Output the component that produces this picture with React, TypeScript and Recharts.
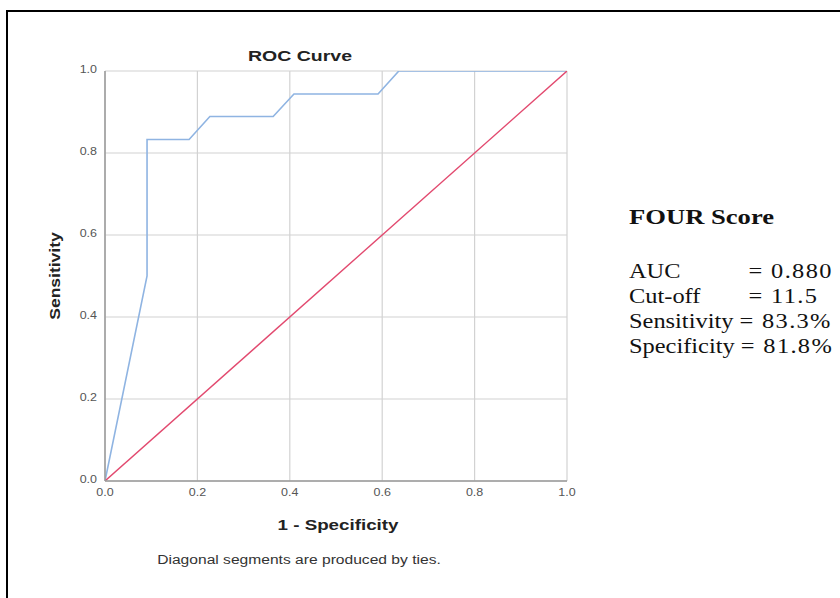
import { CartesianGrid, Line, LineChart, XAxis, YAxis } from "recharts";

// ROC points (1 - specificity, sensitivity)
const fpr = [0, 0.091, 0.091, 0.182, 0.227, 0.364, 0.409, 0.591, 0.636, 1];
const sensitivity = [0, 0.5, 0.833, 0.833, 0.889, 0.889, 0.944, 0.944, 1, 1];
// reference diagonal
const refFpr = [0, 1];
const refSensitivity = [0, 1];
const axisTicks = [0, 0.2, 0.4, 0.6, 0.8, 1];
const statLabels = ["AUC", "Cut-off", "Sensitivity", "Specificity"];
const statValues = ["= 0.880", "= 11.5", "= 83.3%", "= 81.8%"];

const rocData = fpr.map((x, i) => ({ fpr: x, sens: sensitivity[i] }));
const refData = refFpr.map((x, i) => ({ fpr: x, sens: refSensitivity[i] }));

const SANS = "Arial, 'Liberation Sans', sans-serif";
const SERIF = "'Times New Roman', 'Liberation Serif', serif";

function XTick({ x, y, payload }: any) {
  return (
    <g transform={`translate(${x},${y})`}>
      <text transform="scale(1.25,1)" textAnchor="middle" dy="0.71em" fill="#555" fontSize={10} fontFamily={SANS}>
        {Number(payload.value).toFixed(1)}
      </text>
    </g>
  );
}

function YTick({ x, y, payload }: any) {
  return (
    <g transform={`translate(${x},${y})`}>
      <text transform="scale(1.25,1)" textAnchor="end" dy="0.2em" fill="#555" fontSize={10} fontFamily={SANS}>
        {Number(payload.value).toFixed(1)}
      </text>
    </g>
  );
}

const abs = (left: number, top: number, extra: React.CSSProperties = {}): React.CSSProperties => ({
  position: "absolute",
  left,
  top,
  whiteSpace: "nowrap",
  lineHeight: 1,
  ...extra,
});

export default function App() {
  return (
    <div style={{ position: "absolute", left: 0, top: 0, width: 840, height: 598, background: "#fff", overflow: "hidden" }}>
      <LineChart width={840} height={598} margin={{ top: 71, right: 273, bottom: 87, left: 65 }}>
        <CartesianGrid stroke="#d2d2d2" strokeWidth={1.2} />
        <XAxis
          dataKey="fpr"
          type="number"
          domain={[0, 1]}
          ticks={axisTicks}
          height={30}
          tickLine={false}
          tickSize={0}
          tickMargin={8}
          axisLine={{ stroke: "#9a9a9a", strokeWidth: 1.5 }}
          tick={<XTick />}
          allowDataOverflow
        />
        <YAxis
          dataKey="sens"
          type="number"
          domain={[0, 1]}
          ticks={axisTicks}
          width={40}
          tickLine={false}
          tickSize={0}
          tickMargin={8}
          axisLine={{ stroke: "#9a9a9a", strokeWidth: 1.5 }}
          tick={<YTick />}
          allowDataOverflow
        />
        <Line data={rocData} dataKey="sens" type="linear" stroke="#8fb4e2" strokeWidth={1.6} dot={false} isAnimationActive={false} />
        <Line data={refData} dataKey="sens" type="linear" stroke="#e2496f" strokeWidth={1.4} dot={false} isAnimationActive={false} />
      </LineChart>

      {/* titles */}
      <div style={abs(300, 48, { transform: "translateX(-50%) scaleX(1.3)", fontFamily: SANS, fontWeight: "bold", fontSize: 15, color: "#222" })}>
        ROC Curve
      </div>
      <div style={abs(338, 517, { transform: "translateX(-50%) scaleX(1.25)", fontFamily: SANS, fontWeight: "bold", fontSize: 15, color: "#222" })}>
        1 - Specificity
      </div>
      <div style={abs(55, 276, { transform: "translate(-50%,-50%) rotate(-90deg) scaleX(1.25)", fontFamily: SANS, fontWeight: "bold", fontSize: 14, color: "#222" })}>
        Sensitivity
      </div>
      <div style={abs(299, 554, { transform: "translateX(-50%) scaleX(1.3)", fontFamily: SANS, fontSize: 12, color: "#333" })}>
        Diagonal segments are produced by ties.
      </div>

      {/* stats block */}
      <div style={abs(629, 207, { transform: "scaleX(1.33)", transformOrigin: "left", fontFamily: SERIF, fontWeight: "bold", fontSize: 20, color: "#111" })}>
        FOUR Score
      </div>
      {statLabels.map((label, i) => (
        <div
          key={label}
          style={abs(629, 261 + i * 25, { transform: "scaleX(1.22)", transformOrigin: "left", fontFamily: SERIF, fontSize: 20, color: "#111" })}
        >
          <span style={{ display: "inline-block", minWidth: i < 2 ? 93 : 0 }}>{label}</span>{" "}
          <span style={{ letterSpacing: 1.1 }}>{statValues[i]}</span>
        </div>
      ))}

      {/* outer frame */}
      <div style={{ position: "absolute", left: 6, top: 10, width: 850, height: 600, border: "2px solid #000", boxSizing: "border-box" }} />
    </div>
  );
}
